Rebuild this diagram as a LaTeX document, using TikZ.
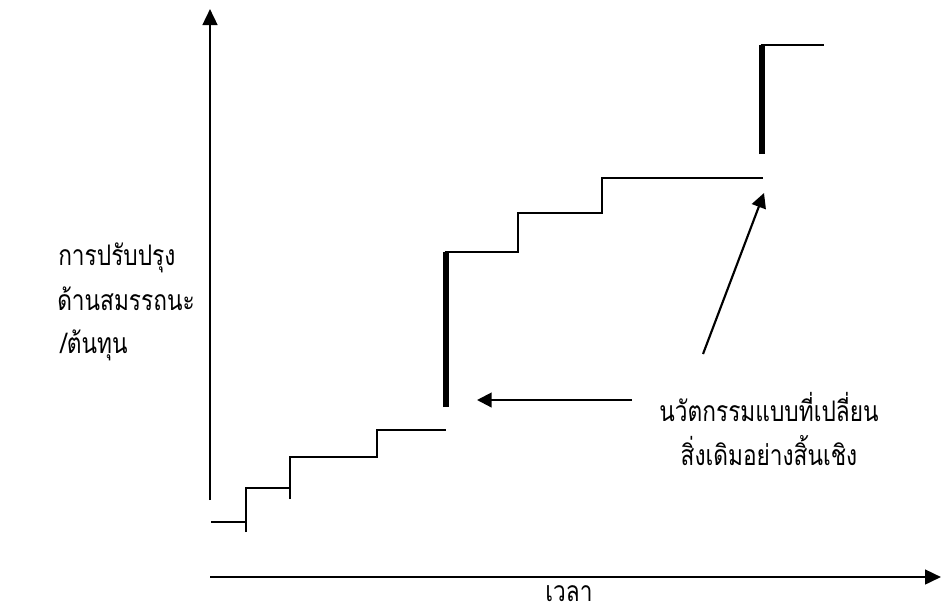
\documentclass[tikz,border=0pt]{standalone}
\usepackage{fontspec}
\usepackage{graphicx}
\newfontfamily\thaifont[Script=Thai]{Loma}
\usetikzlibrary{arrows.meta}
\newcommand{\tall}[1]{\scalebox{1}[1.25]{#1}}
\begin{document}
\begin{tikzpicture}[x=0.75pt,y=-0.75pt,
  axisline/.style={line width=1.9pt,-{Triangle[length=12pt,width=11pt]}},
  stepline/.style={line width=1.2pt},
  jumpline/.style={line width=3.8pt},
  pointer/.style={line width=1.6pt,-{Triangle[length=11pt,width=11pt]}},
  lbl/.style={font=\thaifont\fontsize{17}{20}\selectfont,inner sep=0pt}]
\useasboundingbox (0,0) rectangle (941,608);
% axes
\coordinate (yo) at (210,500);
\coordinate (yt) at (210,9);
\coordinate (xo) at (210,577);
\coordinate (xt) at (941,577);
\draw[axisline] (yo) -- (yt);
\draw[axisline] (xo) -- (xt);
% steps
\draw[stepline] (211,522) -- (246,522);
\draw[stepline] (246,532) -- (246,488) -- (290,488);
\draw[stepline] (290,499) -- (290,457) -- (377,457) -- (377,430) -- (446,430);
\draw[jumpline] (446,407) -- (446,251.5);
\draw[stepline] (444.5,252) -- (518,252) -- (518,213) -- (602,213) -- (602,178) -- (763,178);
\draw[jumpline] (762,154) -- (762,44.5);
\draw[stepline] (760.5,45) -- (824,45);
% labels
\node[lbl,anchor=base west] (ylab1) at (58,265) {\tall{การปรับปรุง}};
\node[lbl,anchor=base west] (ylab2) at (57,310) {\tall{ด้านสมรรถนะ}};
\node[lbl,anchor=base west] (ylab3) at (60,353) {\tall{/ต้นทุน}};
\node[lbl,anchor=base] (inno1) at (769,421) {\tall{นวัตกรรมแบบที่เปลี่ยน}};
\node[lbl,anchor=base] (inno2) at (769,465) {\tall{สิ่งเดิมอย่างสิ้นเชิง}};
\node[lbl,anchor=base,text depth=0pt] (time) at (569,601) {\tall{เวลา}};
% pointers
\coordinate (p1s) at (632,400);
\coordinate (p1e) at (477,400);
\coordinate (p2s) at (703,354);
\coordinate (p2e) at (764,193);
\draw[pointer] (p1s) -- (p1e);
\draw[pointer] (p2s) -- (p2e);
\end{tikzpicture}
\end{document}
